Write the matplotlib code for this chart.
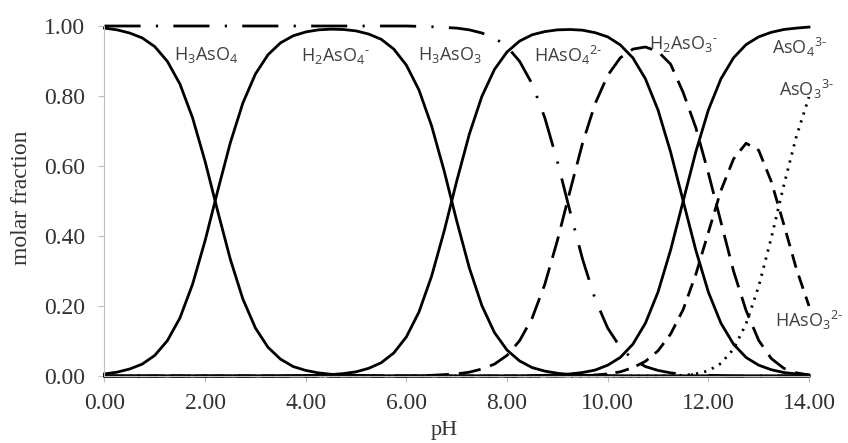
import matplotlib
matplotlib.use("Agg")
import matplotlib.pyplot as plt

# pH grid (0.25 steps)
ph = [0.0, 0.25, 0.5, 0.75, 1.0, 1.25, 1.5, 1.75,
      2.0, 2.25, 2.5, 2.75, 3.0, 3.25, 3.5, 3.75,
      4.0, 4.25, 4.5, 4.75, 5.0, 5.25, 5.5, 5.75,
      6.0, 6.25, 6.5, 6.75, 7.0, 7.25, 7.5, 7.75,
      8.0, 8.25, 8.5, 8.75, 9.0, 9.25, 9.5, 9.75,
      10.0, 10.25, 10.5, 10.75, 11.0, 11.25, 11.5, 11.75,
      12.0, 12.25, 12.5, 12.75, 13.0, 13.25, 13.5, 13.75,
      14.0]

# arsenate species
h3aso4 = [0.994, 0.989, 0.980, 0.966, 0.941, 0.899, 0.834, 0.738,
          0.613, 0.471, 0.334, 0.220, 0.137, 0.082, 0.048, 0.027,
          0.016, 0.009, 0.005, 0.003, 0.002, 0.001, 0, 0] + [0] * 33
h2aso4 = [0.006, 0.011, 0.020, 0.034, 0.059, 0.101, 0.166, 0.262,
          0.387, 0.529, 0.666, 0.780, 0.863, 0.918, 0.952, 0.972,
          0.983, 0.989, 0.991, 0.990, 0.986, 0.977, 0.962, 0.934,
          0.888, 0.817, 0.715, 0.586, 0.443, 0.309, 0.201, 0.124,
          0.074, 0.043, 0.024, 0.014, 0.008, 0.004, 0.002, 0.002,
          0.001] + [0] * 16
haso4 = [0] * 15 + [0.001,
         0.001, 0.002, 0.004, 0.007, 0.012, 0.022, 0.038, 0.066,
         0.112, 0.183, 0.285, 0.414, 0.557, 0.691, 0.799, 0.876,
         0.926, 0.957, 0.975, 0.984, 0.989, 0.990, 0.988, 0.981,
         0.969, 0.946, 0.909, 0.849, 0.760, 0.640, 0.500, 0.360,
         0.240, 0.151, 0.091, 0.053, 0.031, 0.018, 0.010, 0.006,
         0.003]
aso4 = [0] * 34 + [0.001, 0.002, 0.003, 0.006, 0.010, 0.017,
        0.031, 0.053, 0.091, 0.151, 0.240, 0.360, 0.500, 0.640,
        0.760, 0.849, 0.909, 0.947, 0.969, 0.982, 0.990, 0.994,
        0.997]

# arsenite species
h3aso3 = [1.0] * 25 + [0.999, 0.998, 0.996, 0.994, 0.989, 0.980, 0.966,
          0.941, 0.899, 0.834, 0.738, 0.613, 0.471, 0.334, 0.220,
          0.137, 0.082, 0.048, 0.027, 0.016, 0.009, 0.005, 0.003,
          0.002, 0.001] + [0] * 7
h2aso3 = [0] * 25 + [0.001, 0.002, 0.004, 0.006, 0.011, 0.020, 0.034,
          0.059, 0.101, 0.166, 0.262, 0.387, 0.528, 0.665, 0.778,
          0.859, 0.909, 0.934, 0.940, 0.927, 0.891, 0.810, 0.710,
          0.580, 0.440, 0.300, 0.187, 0.102, 0.050, 0.022, 0.009,
          0.003]
haso3 = [0] * 37 + [0.001, 0.001, 0.003,
         0.006, 0.012, 0.024, 0.042, 0.072, 0.120, 0.190, 0.290,
         0.410, 0.530, 0.620, 0.665, 0.645, 0.556, 0.433, 0.306,
         0.200]
aso3 = [0] * 45 + [0.001, 0.002, 0.006,
        0.015, 0.036, 0.077, 0.149, 0.256, 0.394, 0.545, 0.685,
        0.797]

labels = ["H$_3$AsO$_4$", "H$_2$AsO$_4$$^{\\text{-}}$", "H$_3$AsO$_3$",
          "HAsO$_4$$^{\\text{2-}}$", "H$_2$AsO$_3$$^{\\text{-}}$",
          "AsO$_4$$^{\\text{3-}}$", "AsO$_3$$^{\\text{3-}}$", "HAsO$_3$$^{\\text{2-}}$"]
label_x = [2.02, 4.58, 6.86, 9.22, 11.5, 13.8, 13.95, 14.0]
label_y = [0.917, 0.915, 0.917, 0.917, 0.95, 0.94, 0.82, 0.16]

plt.rcParams['mathtext.fontset'] = 'custom'
plt.rcParams['mathtext.rm'] = 'Open Sans'
plt.rcParams['mathtext.it'] = 'Open Sans'
plt.rcParams['mathtext.bf'] = 'Open Sans'

fig = plt.figure(figsize=(8.48, 4.43), dpi=100)
ax = fig.add_axes([0.1232, 0.1512, 0.8308, 0.7901])

lw = 2.0
for y in (h3aso4, h2aso4, haso4, aso4):
    ax.plot(ph, y, color='black', lw=lw, clip_on=False)
ax.plot(ph, h3aso3, color='black', lw=lw, ls=(0, (13, 5.5, 0.8, 5.5)), clip_on=False)
ax.plot(ph, h2aso3, color='black', lw=lw, ls=(0, (8, 3.6)), clip_on=False)
ax.plot(ph, haso3, color='black', lw=lw, ls=(0, (5, 3)), clip_on=False)
ax.plot(ph, aso3, color='black', lw=lw, ls=(0, (0.8, 2.2)), clip_on=False)

for t, x, y in zip(labels, label_x, label_y):
    ax.text(x, y, t, ha='center', va='center', fontsize=13,
            family='Open Sans', color='#404040')

ax.set_xlim(0, 14)
ax.set_ylim(0, 1)
ax.set_xticks([0, 2, 4, 6, 8, 10, 12, 14])
ax.set_yticks([0, 0.2, 0.4, 0.6, 0.8, 1.0])
ax.set_xticklabels(["%.2f" % v for v in ax.get_xticks()])
ax.set_yticklabels(["%.2f" % v for v in ax.get_yticks()])
for s in ('top', 'right'):
    ax.spines[s].set_visible(False)
for s in ('left', 'bottom'):
    ax.spines[s].set_color('#bfbfbf')
ax.tick_params(direction='out', length=4, color='#bfbfbf', labelsize=17,
               labelcolor='#333333')
ax.tick_params(axis='y', pad=10)
ax.tick_params(axis='x', pad=8)
for lab in ax.get_xticklabels() + ax.get_yticklabels():
    lab.set_family('Liberation Serif')

ax.set_xlabel('pH', family='Liberation Serif', fontsize=16, color='#333333')
ax.set_ylabel('molar fraction', family='Liberation Serif', fontsize=17, color='#333333')
ax.xaxis.set_label_coords(0.482, -0.128)
ax.yaxis.set_label_coords(-0.103, 0.509)

fig.savefig('out.png', dpi=100)
